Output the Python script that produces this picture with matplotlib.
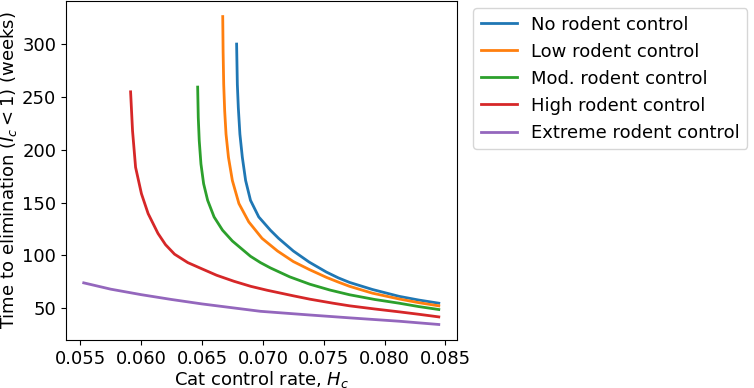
import numpy as np
from matplotlib import pyplot as plt

# values
x_none = [0.06784, 0.06790, 0.06798, 0.06811, 0.06831, 0.06858, 0.06898, 0.06966, 0.07061,
          0.07129, 0.07250, 0.07380, 0.07522, 0.07620, 0.07712, 0.07900, 0.08119, 0.08280, 0.08445]
y_none = [300.3, 262.0, 240.0, 214.9, 192.9, 170.9, 152.1, 136.3, 123.8,
          116.0, 104.0, 93.5, 84.0, 78.5, 74.2, 67.5, 61.0, 57.5, 54.5]

x_low = [0.06670, 0.06673, 0.06678, 0.06686, 0.06697, 0.06717, 0.06749, 0.06803, 0.06884,
         0.06993, 0.07120, 0.07250, 0.07380, 0.07522, 0.07620, 0.07712, 0.07900, 0.08119,
         0.08280, 0.08445]
y_low = [326.4, 293.4, 262.0, 236.9, 214.9, 192.9, 170.9, 149.0, 131.6,
         116.0, 104.0, 94.0, 86.5, 79.0, 74.5, 70.5, 64.0, 58.5,
         55.0, 52.0]

x_mod = [0.06464, 0.06469, 0.06477, 0.06491, 0.06513, 0.06546, 0.06599, 0.06668, 0.06749,
         0.06898, 0.06980, 0.07061, 0.07220, 0.07386, 0.07550, 0.07712, 0.07920, 0.08119,
         0.08280, 0.08445]
y_mod = [259.5, 230.6, 208.6, 186.6, 167.8, 152.1, 136.3, 123.8, 113.5,
         99.0, 93.0, 88.0, 79.5, 72.5, 67.0, 62.5, 58.0, 54.5,
         51.3, 48.5]

x_high = [0.05913, 0.05929, 0.05954, 0.06002, 0.06057, 0.06138, 0.06200, 0.06274, 0.06383,
          0.06491, 0.06620, 0.06762, 0.06900, 0.07034, 0.07250, 0.07386, 0.07576, 0.07712,
          0.07920, 0.08119, 0.08280, 0.08445]
y_high = [255.0, 218.0, 183.4, 158.4, 139.5, 120.7, 110.0, 101.0, 93.0,
          87.5, 81.0, 75.3, 70.5, 66.8, 61.5, 58.3, 54.5, 52.0,
          49.0, 46.3, 44.0, 41.5]

x_ext = [0.05528, 0.05750, 0.06000, 0.06250, 0.06500, 0.06980, 0.07386, 0.07712, 0.08119, 0.08445]
y_ext = [73.8, 67.8, 62.6, 58.0, 53.8, 46.8, 43.3, 40.6, 37.4, 34.3]

labels = ["No rodent control", "Low rodent control", "Mod. rodent control",
          "High rodent control", "Extreme rodent control"]

plt.rcParams["font.size"] = 13

fig = plt.figure(figsize=(7.54, 3.88), dpi=100)
ax = fig.add_axes([0.0875, 0.124, 0.518, 0.873])

series = [(x_none, y_none), (x_low, y_low), (x_mod, y_mod), (x_high, y_high), (x_ext, y_ext)]
for (xs, ys), lab in zip(series, labels):
    ax.plot(xs, ys, linewidth=2, label=lab, solid_joinstyle="round")

ax.set_xticks([0.055, 0.060, 0.065, 0.070, 0.075, 0.080, 0.085])
ax.set_yticks([50, 100, 150, 200, 250, 300])
ax.set_xlabel("Cat control rate, $H_c$", labelpad=1)
ax.set_ylabel("Time to elimination ($I_c < 1$) (weeks)", labelpad=2)
ax.legend(loc="upper left", bbox_to_anchor=(1.02, 1.005), handlelength=2.0)

fig.savefig("out.png", dpi=100)
